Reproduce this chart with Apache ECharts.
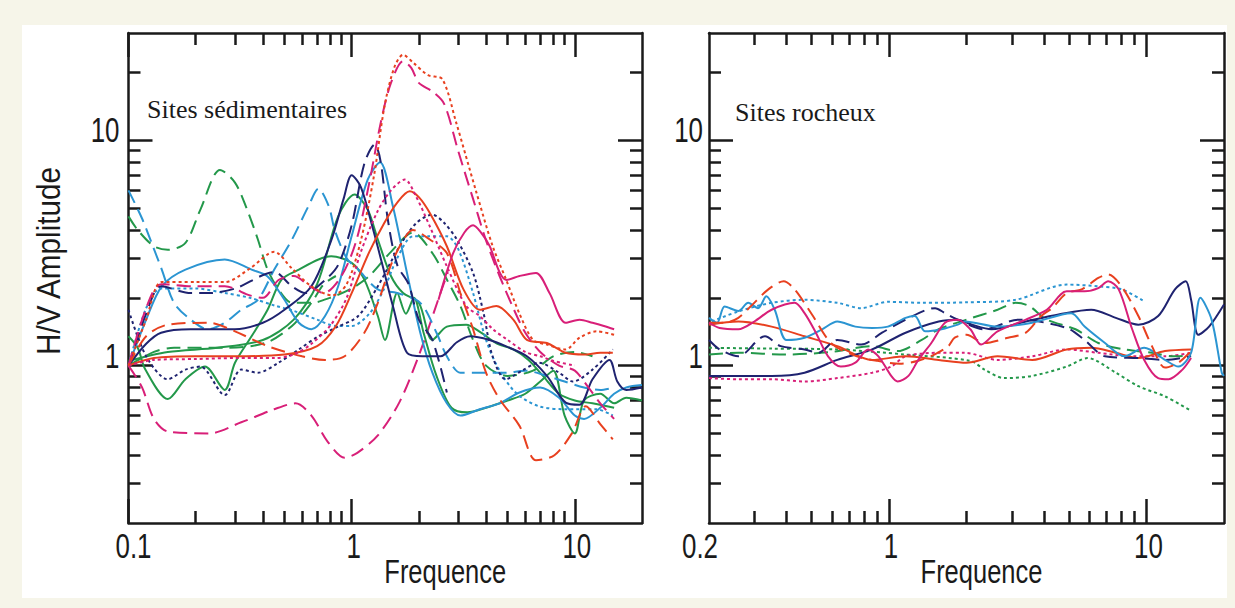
<!DOCTYPE html>
<html><head><meta charset="utf-8">
<script src="https://cdn.jsdelivr.net/npm/echarts@6/dist/echarts.min.js"></script>
<style>html,body{margin:0;padding:0;background:#f6f5e9;}#c{width:1235px;height:608px;}</style>
</head><body><div id="c"></div>
<script>
// ---------- tick / label values ----------
const sedXMajor = [0.1, 1, 10];
const sedXMinor = [0.2,0.3,0.4,0.5,0.6,0.7,0.8,0.9,2,3,4,5,6,7,8,9];
const rockXMajor = [1, 10];
const rockXLabels = [0.2, 1, 10];
const rockXMinor = [0.3,0.4,0.5,0.6,0.7,0.8,0.9,2,3,4,5,6,7,8,9];
const yMajor = [1, 10];
const yMinor = [0.3,0.4,0.5,0.6,0.7,0.8,0.9,2,3,4,5,6,7,8,9,20];
const xTitle = 'Frequence';
const yTitle = 'H/V Amplitude';
const panelTitles = ['Sites sédimentaires', 'Sites rocheux'];

// ---------- Sites sédimentaires : [frequence, H/V] ----------
const sedRedDot = [[0.1,1.0],[0.12,1.6],[0.141,2.35],[0.2,2.35],[0.27,2.35],[0.35,2.7],[0.45,3.2],[0.54,2.7],[0.66,2.25],[0.82,2.05],[0.95,2.3],[1.1,3.6],[1.26,7],[1.4,14],[1.55,21],[1.7,24],[1.9,22],[2.2,19.5],[2.55,18.7],[2.94,12],[3.6,6],[4.28,3.4],[4.93,2.4],[5.65,1.7],[6.5,1.3],[7.5,1.24],[9.1,1.18],[10.5,1.33],[12.5,1.42],[15,1.37]];
const sedMagDashPeak = [[0.1,1.0],[0.12,1.8],[0.14,2.3],[0.2,2.25],[0.27,2.25],[0.35,2.05],[0.4,2.0],[0.47,2.4],[0.55,2.5],[0.65,2.25],[0.75,2.1],[0.9,2.5],[1.05,3.6],[1.2,6.5],[1.35,12],[1.5,18],[1.7,22.5],[1.85,21],[2.0,18],[2.3,16.5],[2.6,14.5],[3.0,9],[3.5,5.5],[4.0,3.6],[4.6,2.5],[5.3,1.8],[6.0,1.4],[7.0,1.15],[8.5,1.0],[10,0.95],[11.5,0.8],[13,0.68],[15,0.58]];
const sedMagDashLow = [[0.1,1.0],[0.115,0.8],[0.13,0.58],[0.15,0.51],[0.23,0.5],[0.32,0.56],[0.45,0.64],[0.56,0.68],[0.66,0.6],[0.78,0.46],[0.93,0.39],[1.06,0.41],[1.31,0.49],[1.64,0.69],[2.02,1.14],[2.5,2.1],[2.7,2.6]];
const sedMagSolid = [[2.45,1.96],[2.85,3.16],[3.2,3.9],[3.5,4.2],[3.8,3.9],[4.15,3.4],[4.6,2.6],[4.93,2.4],[5.65,2.5],[6.7,2.58],[7.7,2.1],[9.1,1.55],[10.5,1.6],[12,1.55],[13.5,1.5],[15,1.45]];
const sedMagDot = [[0.1,1.0],[0.13,1.06],[0.2,1.07],[0.3,1.08],[0.45,1.08],[0.55,1.12],[0.66,1.25],[0.8,1.5],[0.95,2.0],[1.1,3.2],[1.3,4.8],[1.5,6.0],[1.73,6.7],[1.95,5.6],[2.24,4.15],[2.67,2.76],[3.26,1.84],[3.75,1.66],[4.3,1.45],[5,1.3],[6,1.15],[7,1.1],[8,1.05],[10,1.0]];
const sedRedSolid = [[0.1,1.0],[0.13,1.08],[0.2,1.1],[0.3,1.1],[0.5,1.12],[0.7,1.22],[0.85,1.5],[1.0,2.1],[1.2,3.2],[1.4,4.3],[1.6,5.3],[1.82,5.95],[2.0,5.6],[2.24,4.76],[2.67,3.39],[3.17,2.18],[3.75,1.77],[4.45,1.84],[5.3,1.6],[6.1,1.3],[7.5,1.26],[9.1,1.14],[11,1.12],[13,1.14],[14.8,1.14]];
const sedRedDash = [[0.1,1.0],[0.12,1.35],[0.15,1.52],[0.23,1.55],[0.3,1.42],[0.42,1.22],[0.6,1.1],[0.76,1.06],[0.93,1.1],[1.14,1.4],[1.31,1.9],[1.5,2.8],[1.7,3.6],[1.88,4.0],[2.24,3.63],[2.67,3.16],[3.07,2.1],[3.5,1.45],[4.0,0.93],[4.6,0.71],[5.65,0.54],[6.7,0.38],[8.1,0.4],[9.7,0.5],[11.2,0.66],[13,0.55],[14.8,0.47]];
const sedNavySolid = [[0.1,1.0],[0.12,1.25],[0.14,1.4],[0.19,1.45],[0.3,1.45],[0.4,1.55],[0.5,1.77],[0.66,2.25],[0.81,3.6],[0.92,5.5],[1.0,7.0],[1.1,6.2],[1.25,4.0],[1.4,2.6],[1.53,1.84],[1.77,1.14],[2.08,1.1],[2.5,1.1],[2.96,1.27],[3.4,1.35],[4.15,1.3],[4.9,1.22],[6.1,1.1],[7.5,0.9],[9.1,0.685],[10.5,0.67],[12,0.87],[14.3,1.06],[15.5,0.85],[17,0.78],[20,0.8]];
const sedNavyDash = [[0.1,1.0],[0.12,1.7],[0.14,2.25],[0.19,2.1],[0.23,2.1],[0.3,2.2],[0.45,2.6],[0.54,2.25],[0.62,2.1],[0.76,2.4],[0.87,2.8],[1.0,4.2],[1.14,7.9],[1.27,9.6],[1.35,8],[1.45,4.5],[1.6,2.8],[1.8,2.3],[2.0,1.6],[2.3,1.3],[2.67,0.76]];
const sedNavyDot = [[0.1,1.77],[0.12,1.1],[0.15,0.87],[0.18,0.96],[0.21,0.99],[0.27,0.74],[0.32,0.96],[0.38,0.93],[0.47,1.03],[0.58,1.18],[0.71,1.35],[0.87,1.49],[1.07,1.66],[1.31,2.25],[1.64,3.39],[1.95,4.3],[2.3,4.68],[2.6,4.3],[2.96,3.63],[3.5,2.58],[3.9,1.71],[4.28,1.1],[4.9,0.87],[5.8,0.95],[6.9,1.03],[8.5,0.93],[9.8,0.85],[12,0.96],[14.8,1.18]];
const sedCyanSolid = [[0.1,1.0],[0.12,1.6],[0.141,2.25],[0.18,2.67],[0.27,2.96],[0.356,2.67],[0.42,2.49],[0.5,1.96],[0.58,1.55],[0.66,1.45],[0.76,1.66],[0.87,2.25],[1.0,3.76],[1.18,6.7],[1.34,8.0],[1.53,5.1],[1.77,2.58],[2.03,1.4],[2.3,0.93],[2.67,0.68],[3.07,0.6],[3.75,0.64],[4.6,0.68],[5.65,0.76],[7,0.8],[8.5,0.72],[10,0.6],[11,0.58],[13,0.65],[15,0.75],[17,0.8],[20,0.82]];
const sedCyanDash = [[0.1,6.0],[0.115,4.5],[0.127,3.5],[0.141,2.67],[0.16,1.9],[0.19,1.6],[0.227,1.45],[0.27,1.55],[0.32,1.77],[0.38,1.96],[0.45,2.67],[0.54,3.63],[0.64,5.1],[0.71,6.1],[0.79,5.1],[0.84,4.0],[0.95,3.0],[1.07,2.67],[1.31,2.18],[1.6,2.1],[2.03,1.9],[2.4,1.4],[2.67,1.1],[3.07,0.93],[3.6,0.93],[4.9,0.93],[6,0.95],[7.5,0.9],[9,0.85],[11,0.8],[13,0.78],[15,0.8]];
const sedCyanDot = [[0.1,1.0],[0.12,1.8],[0.14,2.2],[0.2,2.2],[0.27,2.1],[0.35,2.0],[0.45,1.85],[0.55,1.75],[0.7,1.6],[0.85,1.5],[1.0,1.5],[1.2,1.7],[1.4,2.2],[1.6,3.0],[1.88,3.75],[2.2,3.75],[2.67,3.75],[3.0,3.3],[3.5,2.1],[4.0,1.3],[4.6,0.95],[5.5,0.75],[6.9,0.66],[9.1,0.64],[12.5,0.64],[14.8,0.6]];
const sedGreenDashPeak = [[0.1,4.6],[0.11,4.0],[0.13,3.39],[0.15,3.27],[0.18,3.51],[0.21,4.93],[0.257,7.4],[0.3,6.5],[0.34,4.93],[0.38,3.63],[0.42,2.67],[0.47,2.18],[0.54,1.9],[0.66,1.9],[0.8,2.0],[1.0,2.2],[1.2,2.5],[1.5,3.2],[1.88,3.9],[2.3,3.16],[2.67,2.41],[3.07,1.84],[3.5,1.3],[4.0,1.0],[5,0.9],[6.5,0.95],[8,1.1],[10,1.15],[12,1.1]];
const sedGreenDashFlat = [[0.1,1.0],[0.13,1.15],[0.16,1.2],[0.27,1.2],[0.41,1.26],[0.54,1.5],[0.66,1.9],[0.75,2.3],[0.85,2.5]];
const sedGreenSolidDip = [[0.1,1.35],[0.11,1.2],[0.119,0.96],[0.15,0.71],[0.18,0.87],[0.22,0.99],[0.27,0.78],[0.3,1.03],[0.356,1.35],[0.42,1.77],[0.485,2.41],[0.58,2.67],[0.71,2.96],[0.81,3.06],[1.0,2.86],[1.14,2.41],[1.31,1.66],[1.41,1.3],[1.6,2.1],[1.75,1.7],[1.9,2.0],[2.1,1.4],[2.4,0.9],[2.8,0.65],[3.3,0.62],[4,0.65],[5,0.7],[6,0.75],[7,0.85],[8,0.95],[9,0.6],[10,0.5],[11,0.7],[13,0.75],[15,0.68],[17,0.72],[20,0.7]];
const sedGreenSolidPeak = [[0.1,1.05],[0.15,1.15],[0.25,1.2],[0.4,1.3],[0.55,1.6],[0.7,2.3],[0.87,4.6],[1.03,5.75],[1.18,4.93],[1.31,3.63],[1.5,2.5],[1.7,2.1],[2.0,1.9],[2.3,1.3],[2.67,1.49],[3.26,1.52],[3.8,1.4],[4.5,1.25],[5.3,1.18],[6.2,1.06],[7.2,0.9],[8.5,0.75],[10,0.7],[12,0.68],[15,0.65]];

// ---------- Sites rocheux : [frequence, H/V] ----------
const rockCyanDot = [[0.205,1.57],[0.26,1.74],[0.35,1.9],[0.47,1.96],[0.63,1.9],[0.78,1.8],[0.99,1.92],[1.34,1.9],[2.0,1.91],[3.1,1.96],[4.9,2.29],[6.5,2.25],[8.0,2.18],[9.8,1.93]];
const rockCyanSolid = [[0.2,1.63],[0.215,1.55],[0.23,1.83],[0.26,1.75],[0.284,1.9],[0.31,1.8],[0.334,2.03],[0.36,1.77],[0.4,1.3],[0.47,1.33],[0.55,1.45],[0.63,1.57],[0.74,1.49],[0.86,1.47],[0.99,1.49],[1.16,1.63],[1.26,1.66],[1.38,1.42],[1.6,1.45],[1.85,1.52],[1.97,1.57],[2.64,1.49],[3.6,1.55],[5.1,1.71],[5.75,1.49],[6.9,1.26],[8.2,1.1],[9.8,1.2],[11.8,1.06],[13.3,0.99],[14.9,1.14],[16.2,2.0],[17.9,1.6],[19.6,0.93],[20,0.9]];
const rockNavySolid = [[0.2,0.9],[0.35,0.9],[0.47,0.93],[0.63,1.06],[0.86,1.18],[1.16,1.4],[1.56,1.57],[1.85,1.6],[2.1,1.52],[2.5,1.45],[3.4,1.57],[4.6,1.69],[6.1,1.77],[7.6,1.63],[9.3,1.52],[11.1,1.66],[12.9,2.18],[14.2,2.37],[14.9,1.96],[15.9,1.37],[17.5,1.49],[20,1.87]];
const rockNavyDash = [[0.2,1.3],[0.22,1.18],[0.26,1.1],[0.33,1.35],[0.38,1.22],[0.47,1.18],[0.53,1.14],[0.63,1.3],[0.78,1.24],[0.94,1.4],[1.16,1.6],[1.51,1.8],[1.65,1.71],[1.85,1.6],[2.35,1.45],[3.17,1.6],[4.9,1.47],[5.75,1.3],[6.9,1.1],[9.3,1.08],[11.8,1.06],[14.9,1.1]];
const rockRedDash = [[0.2,1.55],[0.23,1.55],[0.26,1.63],[0.29,1.83],[0.34,2.18],[0.39,2.37],[0.43,2.18],[0.5,1.7],[0.6,1.25],[0.75,1.1],[0.9,1.05],[1.1,1.02],[1.3,1.05],[1.5,1.12],[1.7,1.22],[1.8,1.33],[2.0,1.37],[2.34,1.26],[2.9,1.33],[3.4,1.4],[3.9,1.66],[4.3,1.8],[4.9,2.1],[5.6,2.18],[6.5,2.45],[7.1,2.54],[8.0,2.25],[9.3,1.66],[10.5,1.22],[11.8,0.98],[13.3,1.03],[14.9,1.16]];
const rockRedSolid = [[0.2,1.52],[0.26,1.57],[0.35,1.49],[0.47,1.35],[0.63,1.22],[0.86,1.06],[1.16,1.1],[1.56,1.06],[2.0,1.03],[2.64,1.1],[3.6,1.06],[4.9,1.18],[6.1,1.2],[7.6,1.14],[9.3,1.08],[11.8,1.16],[14.9,1.18]];
const rockMagSolid = [[0.2,1.55],[0.22,1.47],[0.26,1.45],[0.3,1.57],[0.35,1.77],[0.43,1.9],[0.47,1.71],[0.52,1.4],[0.58,1.1],[0.65,0.99],[0.74,1.03],[0.83,1.18],[0.91,1.1],[1.02,0.9],[1.08,0.85],[1.19,0.9],[1.3,1.06],[1.46,1.26],[1.65,1.55],[1.85,1.6],[2.07,1.45],[2.28,1.24],[2.64,1.42],[3.4,1.6],[4.1,1.77],[4.9,2.14],[5.75,2.14],[6.5,2.21],[7.1,2.37],[7.8,2.18],[8.8,1.45],[9.8,1.06],[11.1,0.88],[12.2,0.87],[13.8,0.96],[14.9,1.08]];
const rockMagDot = [[0.2,0.88],[0.26,0.87],[0.35,0.87],[0.47,0.85],[0.63,0.88],[0.86,0.93],[1.02,0.99],[1.16,1.1],[1.56,1.14],[1.97,1.14],[2.64,1.06],[3.6,1.1],[4.9,1.18],[6.5,1.14],[8.8,1.1],[11.8,1.1],[14.9,1.14]];
const rockGreenDot = [[0.2,1.2],[0.35,1.19],[0.63,1.18],[1.16,1.12],[2.07,1.05],[2.35,0.96],[2.8,0.88],[3.6,0.9],[4.9,0.99],[5.9,1.08],[7.6,0.93],[9.3,0.81],[11.8,0.73],[14.9,0.63]];
const rockGreenDash = [[0.2,1.12],[0.26,1.14],[0.4,1.12],[0.6,1.15],[0.86,1.22],[1.08,1.16],[1.34,1.3],[1.56,1.45],[2.0,1.6],[2.64,1.77],[3.1,1.9],[3.5,1.84],[4.1,1.6],[5.3,1.45],[6.5,1.26],[8.2,1.18],[10.5,1.14],[12.6,1.1],[14.9,1.11]];

// ---------- styles ----------
const COL = {red:'#e8401f', mag:'#d81f78', green:'#23984a', navy:'#1f2370', cyan:'#2b95d2'};
const DASH = {solid:'solid', dash:[14,7], dot:[3,3]};
const INK = '#1a1a1a';
const SANS = '"Liberation Sans", Arial, sans-serif';

const sedSeries = [
  [sedMagDashLow,'mag','dash'],[sedGreenDashFlat,'green','dash'],[sedGreenSolidDip,'green','solid'],
  [sedGreenSolidPeak,'green','solid'],[sedGreenDashPeak,'green','dash'],[sedCyanDash,'cyan','dash'],
  [sedCyanDot,'cyan','dot'],[sedCyanSolid,'cyan','solid'],[sedNavyDot,'navy','dot'],
  [sedNavyDash,'navy','dash'],[sedNavySolid,'navy','solid'],[sedRedDash,'red','dash'],
  [sedRedSolid,'red','solid'],[sedMagDot,'mag','dot'],[sedMagSolid,'mag','solid'],
  [sedMagDashPeak,'mag','dash'],[sedRedDot,'red','dot']
];
const rockSeries = [
  [rockGreenDot,'green','dot'],[rockMagDot,'mag','dot'],[rockGreenDash,'green','dash'],
  [rockRedSolid,'red','solid'],[rockNavyDash,'navy','dash'],[rockNavySolid,'navy','solid'],
  [rockCyanDot,'cyan','dot'],[rockCyanSolid,'cyan','solid'],[rockRedDash,'red','dash'],
  [rockMagSolid,'mag','solid']
];

const fmt = v => String(Math.round(v * 1000) / 1000);

function xAxes(grid, min, max, major, minor) {
  const base = {type:'log', logBase:10, gridIndex:grid, min:min, max:max, splitLine:{show:false}, axisLabel:{show:false}};
  const tickStyle = {color:INK, width:2.5};
  const line = {show:true, onZero:false, lineStyle:{color:INK, width:2.5}};
  return [
    Object.assign({}, base, {position:'bottom', axisLine:line,
      axisTick:{show:true, inside:true, length:24, customValues:major, lineStyle:tickStyle}}),
    Object.assign({}, base, {position:'bottom', axisLine:{show:false},
      axisTick:{show:true, inside:true, length:12, customValues:minor, lineStyle:tickStyle}}),
    Object.assign({}, base, {position:'top', axisLine:line,
      axisTick:{show:true, inside:true, length:24, customValues:major, lineStyle:tickStyle}}),
    Object.assign({}, base, {position:'top', axisLine:{show:false},
      axisTick:{show:true, inside:true, length:12, customValues:minor, lineStyle:tickStyle}})
  ];
}
function yAxes(grid) {
  const base = {type:'log', logBase:10, gridIndex:grid, min:0.2, max:30, splitLine:{show:false}, axisLabel:{show:false}};
  const tickStyle = {color:INK, width:2.5};
  const line = {show:true, onZero:false, lineStyle:{color:INK, width:2.5}};
  return [
    Object.assign({}, base, {position:'left', axisLine:line,
      axisTick:{show:true, inside:true, length:24, customValues:yMajor, lineStyle:tickStyle}}),
    Object.assign({}, base, {position:'left', axisLine:{show:false},
      axisTick:{show:true, inside:true, length:12, customValues:yMinor, lineStyle:tickStyle}}),
    Object.assign({}, base, {position:'right', axisLine:line,
      axisTick:{show:true, inside:true, length:24, customValues:yMajor, lineStyle:tickStyle}}),
    Object.assign({}, base, {position:'right', axisLine:{show:false},
      axisTick:{show:true, inside:true, length:12, customValues:yMinor, lineStyle:tickStyle}})
  ];
}
function mkSeries(list, grid) {
  return list.map(([data, c, s]) => ({
    type:'line', xAxisIndex:grid*4, yAxisIndex:grid*4, data:data,
    showSymbol:false, smooth:0.3, clip:true, silent:true,
    lineStyle:{color:COL[c], width:2, type:DASH[s]}
  }));
}

const chart = echarts.init(document.getElementById('c'), null, {renderer:'svg'});
chart.setOption({
  animation:false,
  backgroundColor:'#f6f5e9',
  grid:[
    {left:128.5, top:33, width:513.5, height:490},
    {left:709, top:33, width:515, height:490}
  ],
  xAxis:[].concat(xAxes(0, 0.1, 20, sedXMajor, sedXMinor), xAxes(1, 0.2, 20, rockXMajor, rockXMinor)),
  yAxis:[].concat(yAxes(0), yAxes(1)),
  series:[].concat(mkSeries(sedSeries, 0), mkSeries(rockSeries, 1))
});

// ---------- text (condensed look via horizontal scale), positioned through the axes ----------
function txt(x, y, text, size, sx, align, extra) {
  return Object.assign({type:'text', x:x, y:y, scaleX:sx, z:50,
    style:{text:text, font:size + 'px ' + SANS, fill:INK, align:align, verticalAlign:'middle',
           textAlign:align, textVerticalAlign:'middle'}}, extra || {});
}
const g = [
  {type:'rect', z:-100, shape:{x:22, y:25, width:1205, height:573}, style:{fill:'#ffffff'}},
  {type:'text', x:147, y:109, z:50, style:{text:panelTitles[0], font:'26px "Liberation Serif", serif', fill:INK, verticalAlign:'middle', textVerticalAlign:'middle'}},
  {type:'text', x:735, y:112, z:50, style:{text:panelTitles[1], font:'26px "Liberation Serif", serif', fill:INK, verticalAlign:'middle', textVerticalAlign:'middle'}}
];
const panels = [
  {grid:0, xmin:0.1, xLabels:sedXMajor, firstDx:5, yLabelGap:9},
  {grid:1, xmin:0.2, xLabels:rockXLabels, firstDx:-9, yLabelGap:6}
];
panels.forEach(p => {
  const bottom = chart.convertToPixel({gridIndex:p.grid}, [p.xmin, 0.2]);
  const right = chart.convertToPixel({gridIndex:p.grid}, [20, 0.2]);
  p.xLabels.forEach((v, i) => {
    const px = chart.convertToPixel({gridIndex:p.grid}, [v, 0.2]);
    g.push(txt(px[0] + (i === 0 ? p.firstDx : 2), bottom[1] + 23, fmt(v), 36, 0.72, 'center'));
  });
  yMajor.forEach(v => {
    const py = chart.convertToPixel({gridIndex:p.grid}, [p.xmin, v]);
    g.push(txt(bottom[0] - p.yLabelGap, py[1] - 10, fmt(v), 36, 0.72, 'right'));
  });
  const mid = (bottom[0] + right[0]) / 2;
  g.push(txt(mid + (p.grid === 0 ? 60 : 15), bottom[1] + 48, xTitle, 34, 0.75, 'center'));
});
g.push(txt(48.5, 261, yTitle, 33, 0.9, 'center', {rotation:Math.PI / 2}));
chart.setOption({graphic:g});
</script></body></html>
